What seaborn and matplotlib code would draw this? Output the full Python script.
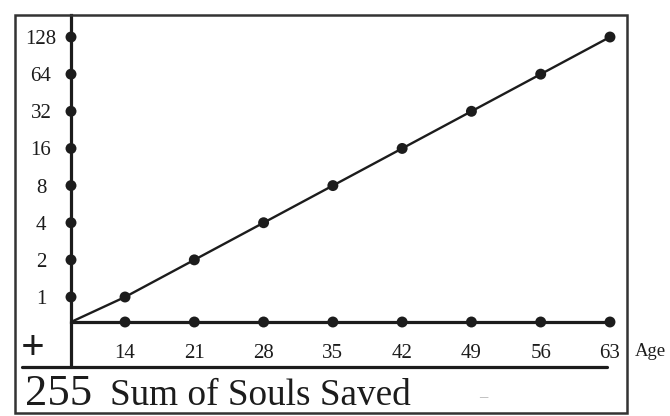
import matplotlib
matplotlib.use('Agg')
import matplotlib.pyplot as plt
import seaborn as sns
import pandas as pd
from matplotlib.lines import Line2D
from matplotlib.patches import Rectangle
from matplotlib.ticker import NullLocator

# ---- data ----
ages = [14, 21, 28, 35, 42, 49, 56, 63]
souls = [1, 2, 4, 8, 16, 32, 64, 128]
x_tick_labels = ['14', '21', '28', '35', '42', '49', '56', '63']
y_tick_labels = ['1', '2', '4', '8', '16', '32', '64', '128']
total_label = '255'
caption = 'Sum of Souls Saved'
x_axis_name = 'Age'

sns.set_theme(style='white')
plt.rcParams['font.family'] = ['Liberation Serif', 'DejaVu Serif']

W, H = 670, 416
fig = plt.figure(figsize=(W / 100, H / 100), dpi=100)
fig.patch.set_facecolor('white')


def fx(px):
    return px / W


def fy(py):
    return 1 - py / H


ink = '#1c1c1c'

ax = fig.add_axes([fx(71), fy(322), fx(627) - fx(71), fy(15) - fy(322)])
ax.set_facecolor('none')
ax.set_yscale('log', base=2)
X0, X1 = 8.54, 64.72
Y0, Y1 = 2 ** -0.673, 2 ** 7.593
ax.set_xlim(X0, X1)
ax.set_ylim(Y0, Y1)

# diagonal line from the origin through the data
df_line = pd.DataFrame({'age': [X0] + ages, 'souls': [Y0] + souls})
sns.lineplot(data=df_line, x='age', y='souls', ax=ax, color=ink, lw=1.7,
             clip_on=False, zorder=3)

# horizontal axis line to the last age
ax.hlines(Y0, X0, ages[-1], color=ink, lw=2.3, clip_on=False, zorder=3)

dot = dict(color=ink, s=62, edgecolor='none', clip_on=False, zorder=4, legend=False)
sns.scatterplot(x=ages, y=souls, ax=ax, **dot)
sns.scatterplot(x=ages, y=[Y0] * len(ages), ax=ax, **dot)
sns.scatterplot(x=[X0] * len(souls), y=souls, ax=ax, **dot)

ax.set_xlabel('')
ax.set_ylabel('')
for s in ['top', 'right', 'bottom']:
    ax.spines[s].set_visible(False)
ax.spines['left'].set_color(ink)
ax.spines['left'].set_linewidth(2.3)

ax.set_xticks(ages, x_tick_labels)
ax.set_yticks(souls, y_tick_labels)
ax.yaxis.set_minor_locator(NullLocator())
ax.xaxis.set_minor_locator(NullLocator())
ax.tick_params(axis='x', length=0, labelsize=15, pad=15.5, colors=ink)
ax.tick_params(axis='y', length=0, labelsize=15, pad=21.6, colors=ink)
for lbl in ax.get_yticklabels():
    lbl.set_horizontalalignment('center')

# frame, extensions and rule
fig.patches.append(Rectangle((fx(15), fy(413)), fx(627) - fx(15), fy(15) - fy(413),
                             transform=fig.transFigure, fill=False, lw=1.8,
                             ec='#333333'))
fig.lines.append(Line2D([fx(71), fx(71)], [fy(322), fy(367)],
                        transform=fig.transFigure, color=ink, lw=2.3))
fig.lines.append(Line2D([fx(22), fx(607)], [fy(367), fy(367)],
                        transform=fig.transFigure, color=ink, lw=2.3))

fig.text(fx(33), fy(349), '+', fontsize=30, fontweight='bold', ha='center',
         va='center', color=ink)
fig.text(fx(25), fy(405), total_label, fontsize=32, ha='left', va='baseline', color=ink)
fig.text(fx(110), fy(405), caption, fontsize=26.8, ha='left', va='baseline', color=ink)
fig.text(fx(635), fy(352), x_axis_name, fontsize=13.5, ha='left', va='center', color=ink)
fig.text(fx(483), fy(397), '\u2013', fontsize=12, ha='center', va='center', color='#b0b0b0')

fig.savefig('out.png', dpi=100)
